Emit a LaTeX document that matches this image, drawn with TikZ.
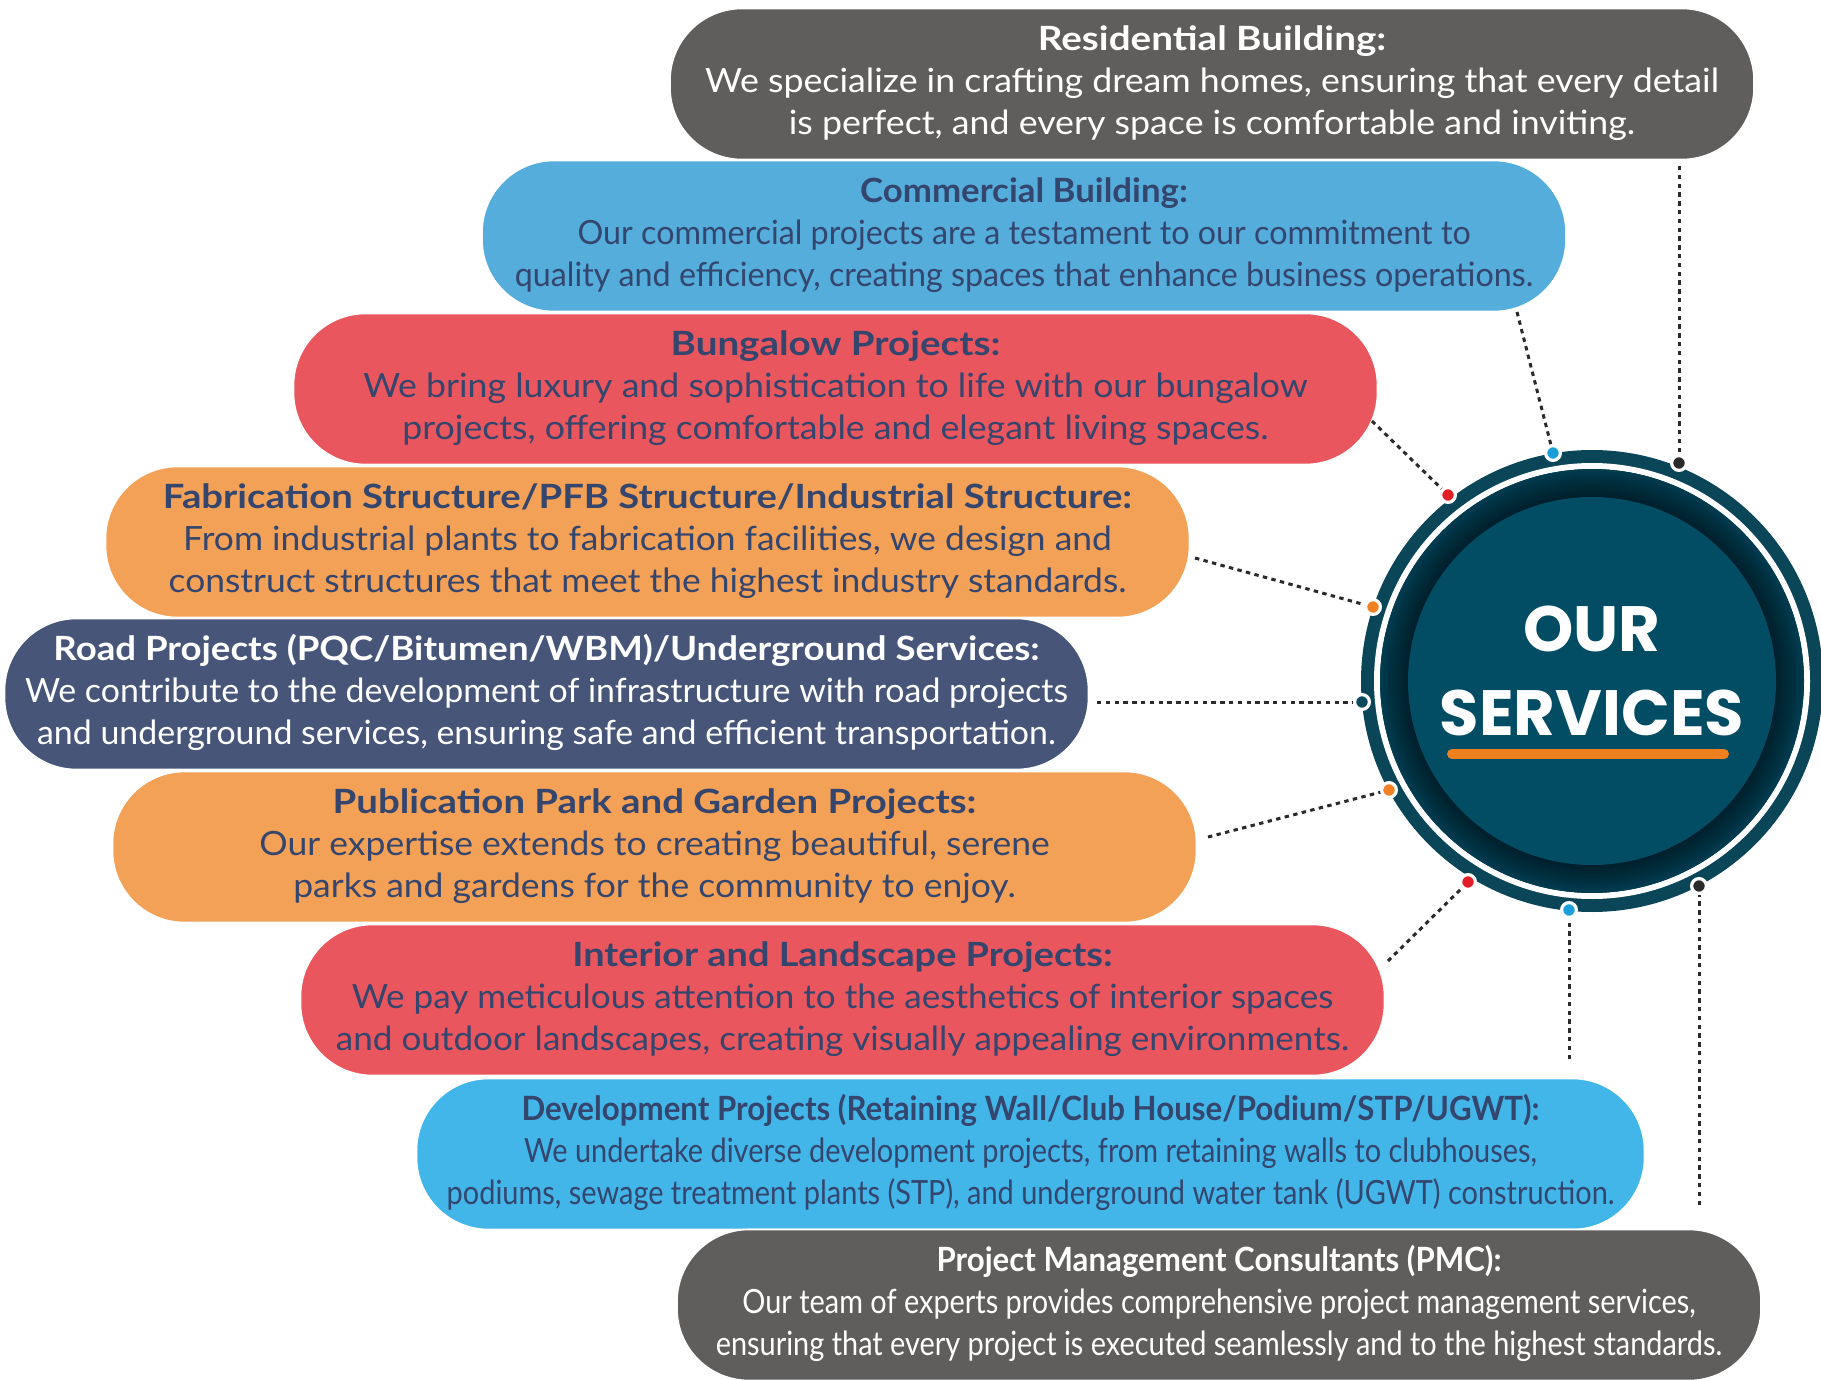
\documentclass[tikz,border=0pt]{standalone}
\usepackage{fontspec}
\usepackage{graphicx}
\setmainfont{Lato}
\newfontfamily\hubfont{Poppins}

\definecolor{pillgrey}{RGB}{95,94,92}
\definecolor{pillblue}{RGB}{84,173,219}
\definecolor{pillred}{RGB}{233,86,93}
\definecolor{pillorange}{RGB}{242,161,87}
\definecolor{pillnavy}{RGB}{71,85,120}
\definecolor{pillsky}{RGB}{66,182,232}
\definecolor{textnavy}{RGB}{52,69,110}
\definecolor{hubring}{RGB}{10,69,88}
\definecolor{hubband}{RGB}{4,60,79}
\definecolor{hubdisc}{RGB}{2,77,99}
\definecolor{dotblue}{RGB}{26,159,219}
\definecolor{dotblack}{RGB}{42,42,42}
\definecolor{dotred}{RGB}{226,30,38}
\definecolor{dotorange}{RGB}{239,129,34}
\definecolor{dotteal}{RGB}{11,74,94}
\definecolor{barorange}{RGB}{238,127,31}

\tikzset{
  pill/.style={rectangle, rounded corners=36pt, minimum width=542pt, minimum height=75.5pt,
    draw=white, line width=0.8pt, inner sep=0pt, align=center, text=textnavy,
    font=\fontsize{16.7}{21}\selectfont},
  ring dot/.style={circle, draw=white, line width=1.6pt, inner sep=0pt, minimum size=7.4pt},
  dots line/.style={dotblack, line width=1.5pt, dash pattern=on 2.2pt off 2.2pt},
}

% one service: x-stretch, title, two lines
\newcommand{\svc}[4]{\scalebox{#1}[1]{\begin{tabular}{@{}c@{}}\scalebox{1.08}[1]{\textbf{#2}}\\#3\\#4\end{tabular}}}

\begin{document}
\begin{tikzpicture}[x=0.5pt,y=0.5pt,yscale=-1,xscale=1]
\useasboundingbox (0,0) rectangle (1821,1380);

%Shape: hub circle
\node[circle, fill=hubring, minimum size=231pt, inner sep=0pt] (hub) at (1592,681) {};
\draw[white, line width=3pt] (hub.center) circle[radius=215];
\fill[hubband] (hub.center) circle[radius=212];
% soft shadow round the inner disc
\foreach \r in {210,208,...,186}
  \fill[black, opacity=0.035] (hub.center) circle[radius=\r];
\fill[hubdisc] (hub.center) circle[radius=184];
\node[text=white, font=\hubfont\bfseries\fontsize{32}{32}\selectfont] (our) at (1592,629) {OUR};
\node[text=white, font=\hubfont\bfseries\fontsize{32}{32}\selectfont] (services) at (1592,713) {SERVICES};
\coordinate (bar-l) at (1452,754);
\coordinate (bar-r) at (1724,754);
\draw[barorange, line width=5pt, line cap=round] (bar-l) -- (bar-r);

%Shape: service pills
\node[pill, fill=pillgrey, text=white] (resi) at (1212,84)
  {\svc{1.07}{Residential Building:}{We specialize in crafting dream homes, ensuring that every detail}{is perfect, and every space is comfortable and inviting.}};
\node[pill, fill=pillblue] (comm) at (1024,236)
  {\svc{0.965}{Commercial Building:}{Our commercial projects are a testament to our commitment to}{quality and efficiency, creating spaces that enhance business operations.}};
\node[pill, fill=pillred] (bung) at (835.5,389)
  {\svc{1.068}{Bungalow Projects:}{We bring luxury and sophistication to life with our bungalow}{projects, offering comfortable and elegant living spaces.}};
\node[pill, fill=pillorange] (fab) at (647.5,542)
  {\svc{1.06}{Fabrication Structure/PFB Structure/Industrial Structure:}{From industrial plants to fabrication facilities, we design and}{construct structures that meet the highest industry standards.}};
\node[pill, fill=pillnavy, text=white] (road) at (546.5,694)
  {\svc{1.015}{Road Projects (PQC/Bitumen/WBM)/Underground Services:}{We contribute to the development of infrastructure with road projects}{and underground services, ensuring safe and efficient transportation.}};
\node[pill, fill=pillorange] (pub) at (654.5,847)
  {\svc{1.063}{Publication Park and Garden Projects:}{Our expertise extends to creating beautiful, serene}{parks and gardens for the community to enjoy.}};
\node[pill, fill=pillred] (inter) at (842.5,1000)
  {\svc{1.05}{Interior and Landscape Projects:}{We pay meticulous attention to the aesthetics of interior spaces}{and outdoor landscapes, creating visually appealing environments.}};
\node[pill, fill=pillsky, minimum width=614pt] (dev) at (1030.5,1154)
  {\svc{0.866}{Development Projects (Retaining Wall/Club House/Podium/STP/UGWT):}{We undertake diverse development projects, from retaining walls to clubhouses,}{podiums, sewage treatment plants (STP), and underground water tank (UGWT) construction.}};
\node[pill, fill=pillgrey, text=white] (pmc) at (1219,1305)
  {\svc{0.865}{Project Management Consultants (PMC):}{Our team of experts provides comprehensive project management services,}{ensuring that every project is executed seamlessly and to the highest standards.}};

%Dots on the ring
\node[ring dot, fill=dotblack] (d-resi) at (1679,463) {};
\node[ring dot, fill=dotblue] (d-comm) at (1553,453) {};
\node[ring dot, fill=dotred] (d-bung) at (1448,495) {};
\node[ring dot, fill=dotorange] (d-fab) at (1373,607) {};
\node[ring dot, fill=dotteal] (d-road) at (1362,702) {};
\node[ring dot, fill=dotorange] (d-pub) at (1389,790) {};
\node[ring dot, fill=dotred] (d-inter) at (1468,882) {};
\node[ring dot, fill=dotblue] (d-dev) at (1569,910) {};
\node[ring dot, fill=dotblack] (d-pmc) at (1699,886) {};

%Free ends of the dotted lines
\coordinate (e-resi) at (1679,166);
\coordinate (e-comm) at (1517,312);
\coordinate (e-bung) at (1372,421);
\coordinate (e-fab) at (1195,558);
\coordinate (e-road) at (1097,702);
\coordinate (e-pub) at (1208,837);
\coordinate (e-inter) at (1388,961);
\coordinate (e-dev) at (1569,1059);
\coordinate (e-pmc) at (1699,1205);

%Straight Lines
\foreach \s in {resi,comm,bung,fab,road,pub,inter,dev,pmc}
  \draw[dots line] (e-\s) -- (d-\s);

\end{tikzpicture}
\end{document}
